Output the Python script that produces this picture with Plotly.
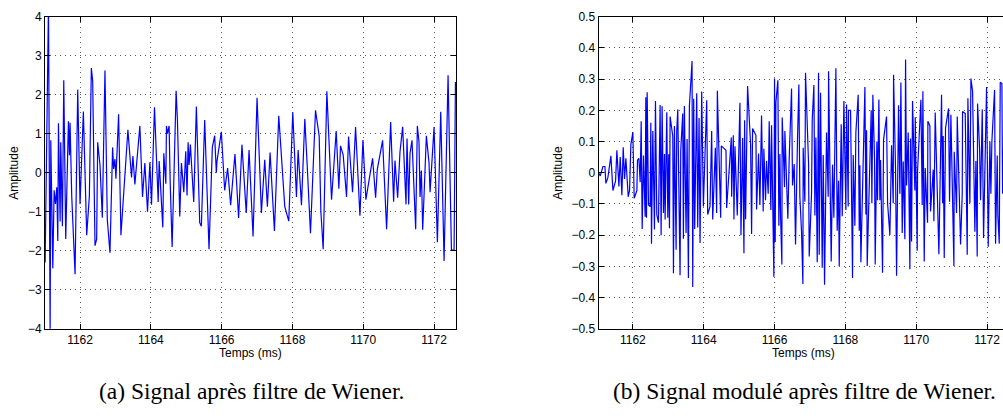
import plotly.graph_objects as go

# ---------------- data ----------------
left_t = [
    1161.014, 1161.108, 1161.155, 1161.174, 1161.230, 1161.268, 1161.305, 1161.343, 1161.371, 1161.390,
    1161.437, 1161.455, 1161.502, 1161.540, 1161.596, 1161.671, 1161.700, 1161.718, 1161.765, 1161.859,
    1161.934, 1162.000, 1162.094, 1162.188, 1162.263, 1162.319, 1162.357, 1162.423, 1162.469, 1162.498,
    1162.563, 1162.629, 1162.704, 1162.770, 1162.845, 1162.920, 1162.948, 1162.986, 1163.014, 1163.089,
    1163.155, 1163.221, 1163.352, 1163.455, 1163.493, 1163.549, 1163.690, 1163.765, 1163.831, 1163.906,
    1163.972, 1164.019, 1164.103, 1164.207, 1164.235, 1164.338, 1164.366, 1164.423, 1164.441, 1164.469,
    1164.516, 1164.545, 1164.601, 1164.714, 1164.751, 1164.817, 1164.864, 1164.930, 1164.986, 1165.023,
    1165.052, 1165.080, 1165.117, 1165.211, 1165.286, 1165.380, 1165.427, 1165.521, 1165.643, 1165.737,
    1165.803, 1165.850, 1165.869, 1165.991, 1166.085, 1166.169, 1166.254, 1166.376, 1166.479, 1166.573,
    1166.695, 1166.774, 1166.887, 1167.000, 1167.123, 1167.217, 1167.292, 1167.368, 1167.491, 1167.613,
    1167.783, 1167.896, 1168.009, 1168.113, 1168.160, 1168.255, 1168.349, 1168.415, 1168.509, 1168.651,
    1168.755, 1168.802, 1168.868, 1168.972, 1169.104, 1169.236, 1169.311, 1169.358, 1169.434, 1169.528,
    1169.585, 1169.698, 1169.783, 1169.906, 1169.991, 1170.075, 1170.264, 1170.349, 1170.396, 1170.547,
    1170.660, 1170.774, 1170.858, 1170.896, 1170.972, 1171.038, 1171.113, 1171.208, 1171.236, 1171.283,
    1171.321, 1171.377, 1171.481, 1171.528, 1171.575, 1171.604, 1171.642, 1171.679, 1171.783, 1171.858,
    1171.887, 1172.000, 1172.094, 1172.189, 1172.283, 1172.396, 1172.491, 1172.566, 1172.604, 1172.632,
]
left_amp = [
    -2.3, 4.3, -4.1, 0.83, -2.45, -0.45, -0.8, -0.37, -1.75, 1.27,
    -1.25, 0.78, -1.37, 2.37, -1.7, 1.32, 0.45, 1.28, -0.6, -2.6,
    2.13, -0.8, 1.57, -1.6, -0.6, 2.68, 2.35, -1.87, -1.7, 0.78,
    0.2, -1.15, 2.62, -1.2, -2.05, 0.65, 0.1, 0.35, -0.15, 1.5,
    -1.6, -0.75, 1.1, -0.12, 0.43, -0.3, 1.2, -0.62, 0.25, -1.0,
    0.27, -0.82, 1.68, -0.75, 0.3, -1.4, 0.5, -0.28, 1.2, 1.0,
    1.2, -0.2, -1.9, 2.1, 1.35, -1.12, 0.25, -0.5, 0.55, -0.58,
    0.78, 0.2, 0.72, -0.75, 1.7, -1.28, -1.37, 1.35, -1.96, 0.65,
    0.95, 0.0, 0.3, 1.05, -0.45, 0.12, -0.83, 0.48, -1.16, 0.72,
    -1.03, 0.58, -1.63, 1.92, -1.03, 0.33, -0.87, 0.52, -1.49, 1.46,
    -0.87, -1.24, 1.55, -0.62, 0.58, -0.83, 1.38, 0.22, -1.55, 1.6,
    0.95, -0.98, -1.96, 2.09, -0.69, 1.07, -0.41, 0.69, 0.45, -0.62,
    0.93, -0.5, 1.17, -1.1, 0.84, -0.69, 0.37, -0.64, 0.08, 0.83,
    -1.45, 1.3, -0.74, 0.31, -0.64, 0.54, 1.18, -0.81, 0.88, -0.81,
    0.5, 0.83, -1.45, 1.2, 0.79, -0.62, 0.06, -1.46, 0.95, 0.25,
    -0.5, 1.17, -1.78, 1.56, -2.26, 2.5, -1.98, -1.98, 2.31, 2.31,
]

right_t = [
    1161.033, 1161.080, 1161.155, 1161.211, 1161.239, 1161.296, 1161.380, 1161.437, 1161.512, 1161.549,
    1161.606, 1161.643, 1161.690, 1161.728, 1161.765, 1161.803, 1161.869, 1161.906, 1161.944, 1162.000,
    1162.038, 1162.113, 1162.131, 1162.169, 1162.207, 1162.235, 1162.263, 1162.300, 1162.347, 1162.366,
    1162.385, 1162.404, 1162.441, 1162.488, 1162.507, 1162.526, 1162.563, 1162.610, 1162.638, 1162.676,
    1162.723, 1162.770, 1162.798, 1162.826, 1162.864, 1162.892, 1162.911, 1162.958, 1162.986, 1163.014,
    1163.033, 1163.052, 1163.127, 1163.146, 1163.174, 1163.221, 1163.239, 1163.268, 1163.333, 1163.352,
    1163.408, 1163.427, 1163.455, 1163.502, 1163.531, 1163.568, 1163.596, 1163.671, 1163.690, 1163.718,
    1163.746, 1163.775, 1163.803, 1163.831, 1163.869, 1163.897, 1163.944, 1163.991, 1164.038, 1164.085,
    1164.113, 1164.178, 1164.225, 1164.254, 1164.329, 1164.366, 1164.385, 1164.479, 1164.498, 1164.629,
    1164.648, 1164.779, 1164.789, 1164.836, 1164.854, 1164.883, 1164.948, 1165.023, 1165.052, 1165.099,
    1165.136, 1165.155, 1165.183, 1165.239, 1165.324, 1165.352, 1165.380, 1165.474, 1165.493, 1165.549,
    1165.587, 1165.633, 1165.680, 1165.699, 1165.746, 1165.774, 1165.821, 1165.849, 1165.896, 1165.915,
    1165.981, 1166.000, 1166.019, 1166.038, 1166.094, 1166.122, 1166.151, 1166.169, 1166.207, 1166.216,
    1166.282, 1166.292, 1166.376, 1166.414, 1166.480, 1166.508, 1166.555, 1166.593, 1166.649, 1166.687,
    1166.715, 1166.762, 1166.800, 1166.809, 1166.856, 1166.875, 1166.904, 1166.960, 1166.979, 1167.045,
    1167.064, 1167.111, 1167.139, 1167.167, 1167.205, 1167.242, 1167.261, 1167.299, 1167.346, 1167.374,
    1167.412, 1167.468, 1167.515, 1167.525, 1167.600, 1167.638, 1167.675, 1167.704, 1167.732, 1167.769,
    1167.807, 1167.826, 1167.882, 1167.911, 1167.958, 1168.014, 1168.033, 1168.080, 1168.089, 1168.146,
    1168.202, 1168.221, 1168.268, 1168.296, 1168.362, 1168.391, 1168.409, 1168.438, 1168.551, 1168.579,
    1168.598, 1168.616, 1168.729, 1168.748, 1168.776, 1168.824, 1168.842, 1168.889, 1168.908, 1168.946,
    1168.974, 1168.993, 1169.049, 1169.078, 1169.162, 1169.191, 1169.256, 1169.304, 1169.351, 1169.360,
    1169.416, 1169.445, 1169.501, 1169.539, 1169.567, 1169.605, 1169.633, 1169.680, 1169.699, 1169.727,
    1169.774, 1169.821, 1169.840, 1169.868, 1169.896, 1169.962, 1169.972, 1170.028, 1170.038, 1170.132,
    1170.169, 1170.188, 1170.226, 1170.254, 1170.320, 1170.329, 1170.386, 1170.405, 1170.480, 1170.499,
    1170.536, 1170.640, 1170.715, 1170.744, 1170.762, 1170.791, 1170.828, 1170.913, 1170.941, 1170.979,
    1171.064, 1171.073, 1171.139, 1171.158, 1171.252, 1171.299, 1171.308, 1171.384, 1171.412, 1171.440,
    1171.459, 1171.515, 1171.544, 1171.591, 1171.656, 1171.685, 1171.722, 1171.732, 1171.788, 1171.816,
    1171.864, 1171.901, 1171.986, 1172.033, 1172.080, 1172.108, 1172.136, 1172.212, 1172.240, 1172.287,
    1172.306, 1172.344, 1172.372, 1172.419, 1172.438, 1172.470,
]
right_amp = [
    0.0, -0.01, 0.02, 0.02, -0.034, -0.015, 0.054, -0.057, -0.026, 0.072,
    -0.044, 0.05, -0.072, 0.082, -0.02, 0.046, -0.077, -0.057, 0.09, 0.13,
    -0.082, -0.057, 0.04, 0.046, -0.03, 0.165, -0.18, 0.055, -0.141, 0.242,
    -0.144, 0.258, -0.103, -0.108, 0.16, -0.227, 0.134, -0.182, 0.23, -0.134,
    -0.16, 0.217, -0.2, 0.213, -0.129, 0.06, -0.15, 0.194, -0.144, 0.059,
    -0.178, 0.18, 0.117, -0.322, 0.15, -0.247, 0.134, 0.203, -0.328, 0.072,
    0.19, -0.211, 0.214, -0.193, 0.108, -0.337, 0.214, 0.358, -0.366, 0.237,
    -0.18, 0.1, 0.255, -0.175, 0.175, -0.225, 0.26, -0.108, 0.1, 0.232,
    -0.134, -0.108, 0.134, -0.15, 0.08, -0.129, 0.263, -0.144, 0.086, 0.072,
    -0.113, 0.113, -0.077, 0.12, -0.15, 0.085, -0.137, 0.224, -0.2, 0.111,
    -0.258, 0.168, -0.149, 0.278, 0.09, -0.196, 0.142, 0.12, -0.118, 0.062,
    -0.103, 0.183, -0.124, 0.077, -0.088, 0.038, -0.067, 0.165, -0.119, 0.152,
    -0.333, 0.302, -0.222, 0.225, 0.296, -0.17, 0.06, -0.134, -0.294, 0.177,
    -0.046, 0.134, -0.147, 0.046, 0.27, -0.041, 0.028, -0.23, 0.113, 0.283,
    -0.077, -0.189, -0.356, 0.08, -0.093, 0.32, 0.222, 0.031, -0.268, -0.065,
    0.168, 0.281, -0.137, 0.113, -0.287, 0.32, -0.263, 0.256, -0.304, 0.057,
    -0.359, 0.129, -0.077, 0.325, -0.284, 0.026, -0.144, 0.191, 0.335, -0.186,
    -0.026, -0.299, 0.155, -0.139, 0.23, -0.119, 0.219, -0.108, 0.2, 0.2,
    -0.337, 0.057, -0.17, 0.129, 0.25, -0.186, 0.024, -0.287, 0.275, -0.134,
    0.136, -0.299, 0.2, -0.098, 0.25, 0.041, -0.294, 0.1, -0.088, 0.235,
    -0.088, 0.041, -0.32, 0.106, 0.18, -0.098, -0.199, 0.088, -0.098, 0.314,
    0.015, -0.33, 0.216, -0.067, 0.289, -0.193, 0.036, -0.213, 0.363, -0.041,
    0.129, -0.309, 0.11, -0.22, 0.23, -0.057, 0.178, -0.25, 0.007, 0.234,
    -0.103, 0.261, -0.284, 0.015, -0.16, 0.165, 0.15, -0.124, 0.01, -0.155,
    0.193, -0.261, 0.25, -0.098, 0.118, -0.273, 0.144, 0.206, -0.093, 0.186,
    -0.299, 0.067, -0.129, 0.18, -0.23, -0.067, 0.196, 0.19, -0.165, -0.263,
    0.239, -0.098, 0.302, 0.261, -0.189, 0.038, -0.268, 0.222, 0.08, -0.088,
    0.203, -0.209, 0.275, -0.237, 0.1, -0.067, 0.1, 0.265, -0.227, 0.055,
    -0.139, -0.227, 0.29, 0.286, -0.067, 0.1,
]

x_ticks = [1162, 1164, 1166, 1168, 1170, 1172]
left_yticks = [-4, -3, -2, -1, 0, 1, 2, 3, 4]
right_yticks = [-0.5, -0.4, -0.3, -0.2, -0.1, 0, 0.1, 0.2, 0.3, 0.4, 0.5]
x_title = "Temps (ms)"
y_title = "Amplitude"
caption_a = "(a) Signal après filtre de Wiener."
caption_b = "(b) Signal modulé après filtre de Wiener."

assert len(left_t) == len(left_amp)
assert len(right_t) == len(right_amp)

# ---------------- figure ----------------
W, H = 1003, 418
SANS = "Liberation Sans, Arial, Helvetica, sans-serif"
SERIF = "Liberation Serif, Times New Roman, serif"
BLUE = "#0000ff"

fig = go.Figure()
fig.add_trace(go.Scatter(x=left_t, y=left_amp, mode="lines",
                         line=dict(color=BLUE, width=1.2), xaxis="x", yaxis="y",
                         showlegend=False, hoverinfo="skip"))
fig.add_trace(go.Scatter(x=right_t, y=right_amp, mode="lines",
                         line=dict(color=BLUE, width=1.2), xaxis="x2", yaxis="y2",
                         showlegend=False, hoverinfo="skip"))

ydom = [1 - 333 / H, 1 - 10 / H]
common_axis = dict(
    showline=True, linecolor="black", linewidth=1,
    ticks="inside", ticklen=5, tickcolor="black", tickwidth=1,
    showgrid=True, gridcolor="#5a5a5a", griddash="1px,4px", gridwidth=1,
    zeroline=False, tickfont=dict(family=SANS, size=12, color="black"),
)

fig.update_layout(
    width=W, height=H,
    margin=dict(l=0, r=0, t=0, b=0),
    paper_bgcolor="white", plot_bgcolor="white",
    xaxis=dict(domain=[45 / W, 456 / W], range=[1161.01, 1172.62],
               tickvals=x_ticks, ticktext=[str(v) for v in x_ticks],
               anchor="y", mirror="ticks", **common_axis),
    yaxis=dict(domain=ydom, range=[-4, 4], tickvals=left_yticks,
               anchor="x", mirror="ticks", **common_axis),
    xaxis2=dict(domain=[598.5 / W, 1.0], range=[1161.03, 1172.45],
                tickvals=x_ticks, ticktext=[str(v) for v in x_ticks],
                anchor="y2", mirror="ticks", **common_axis),
    yaxis2=dict(domain=ydom, range=[-0.5, 0.5], tickvals=right_yticks,
                anchor="x2", mirror=False, **common_axis),
)
fig.update_layout(yaxis2=dict(
    ticktext=[("0" if v == 0 else f"{v:.1f}".replace("-", "\u2212")) for v in right_yticks]))

ann = []
for cx in (250.5, 803.5):
    ann.append(dict(text=x_title, x=cx / W, y=1 - 358 / H, xref="paper", yref="paper",
                    showarrow=False, xanchor="center", yanchor="middle",
                    font=dict(family=SANS, size=12, color="black")))
for cx in (14, 558):
    ann.append(dict(text=y_title, x=cx / W, y=1 - 171.5 / H, xref="paper", yref="paper",
                    showarrow=False, xanchor="center", yanchor="middle", textangle=-90,
                    font=dict(family=SANS, size=12, color="black")))
ann.append(dict(text=caption_a, x=251 / W, y=1 - 397 / H, xref="paper", yref="paper",
                showarrow=False, xanchor="center", yanchor="middle",
                font=dict(family=SERIF, size=23.5, color="black")))
ann.append(dict(text=caption_b, x=804 / W, y=1 - 397 / H, xref="paper", yref="paper",
                showarrow=False, xanchor="center", yanchor="middle",
                font=dict(family=SERIF, size=23.5, color="black")))
fig.update_layout(annotations=ann)

fig.write_html("out.html", config={"displayModeBar": False})
